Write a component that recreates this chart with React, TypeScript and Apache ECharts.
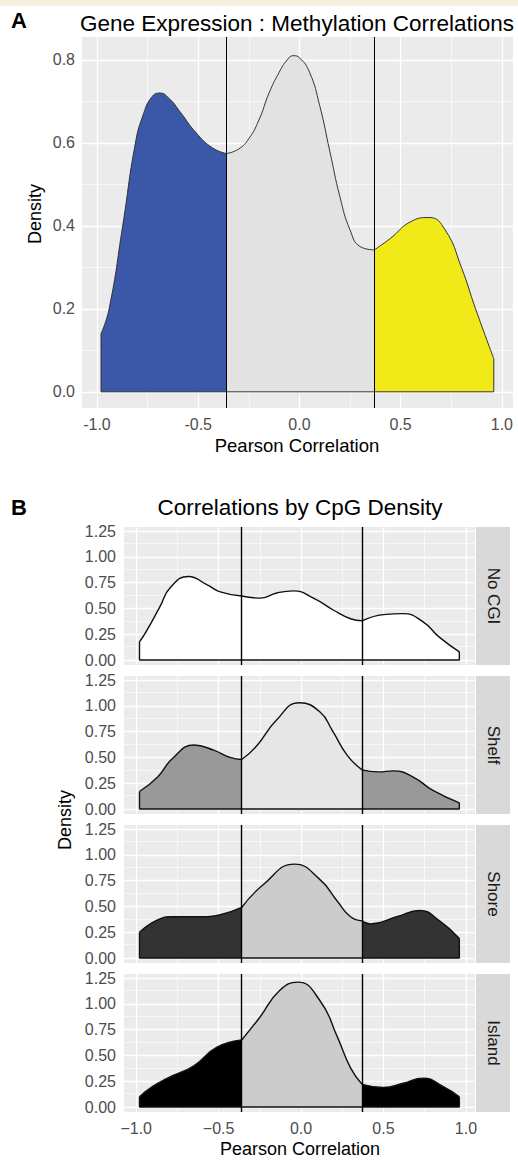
import React, { useEffect, useRef } from "react";
import * as echarts from "echarts";

// ---------- data ----------
const X_TICKS = [-1, -0.5, 0, 0.5, 1];
const X_MINOR = [-0.75, -0.25, 0.25, 0.75];
const Y_TICKS_A = [0, 0.2, 0.4, 0.6, 0.8];
const Y_MINOR_A = [0.1, 0.3, 0.5, 0.7];
const Y_TICKS_B = [0, 0.25, 0.5, 0.75, 1, 1.25];
const Y_MINOR_B = [0.125, 0.375, 0.625, 0.875, 1.125];
const CUTOFFS = [-0.36, 0.37];

const X_A = [-0.98, -0.94, -0.873, -0.81, -0.77, -0.73, -0.69, -0.64, -0.59, -0.51, -0.43, -0.36,
  -0.3, -0.25, -0.2, -0.15, -0.1, -0.06, -0.03, 0.0, 0.05, 0.1, 0.15, 0.2, 0.25, 0.3, 0.37,
  0.45, 0.55, 0.64, 0.72, 0.8, 0.87, 0.96];
const Y_A = [0.14, 0.2, 0.4, 0.6, 0.67, 0.71, 0.72, 0.705, 0.675, 0.624, 0.588, 0.574,
  0.585, 0.61, 0.655, 0.72, 0.77, 0.8, 0.81, 0.805, 0.77, 0.69, 0.58, 0.47, 0.39, 0.35, 0.342,
  0.37, 0.41, 0.42, 0.39, 0.3, 0.2, 0.08];

const FACETS = ["No CGI", "Shelf", "Shore", "Island"];

const X_NOCGI = [-0.98, -0.945, -0.855, -0.794, -0.683, -0.572, -0.49, -0.36, -0.25, -0.147, -0.046, 0.075, 0.2, 0.3, 0.37, 0.5, 0.62, 0.74, 0.84, 0.96];
const Y_NOCGI = [0.177, 0.26, 0.52, 0.7, 0.81, 0.73, 0.66, 0.62, 0.6, 0.65, 0.67, 0.6, 0.48, 0.4, 0.38, 0.44, 0.45, 0.37, 0.22, 0.08];

const X_SHELF = [-0.98, -0.87, -0.78, -0.65, -0.53, -0.43, -0.36, -0.27, -0.15, -0.01, 0.115, 0.19, 0.28, 0.37, 0.47, 0.56, 0.68, 0.8, 0.96];
const Y_SHELF = [0.17, 0.31, 0.49, 0.62, 0.57, 0.5, 0.48, 0.61, 0.86, 1.03, 0.94, 0.76, 0.52, 0.38, 0.36, 0.37, 0.31, 0.18, 0.06];

const X_SHORE = [-0.98, -0.87, -0.78, -0.61, -0.49, -0.36, -0.23, -0.04, 0.115, 0.22, 0.3, 0.37, 0.42, 0.58, 0.72, 0.84, 0.96];
const Y_SHORE = [0.25, 0.37, 0.4, 0.4, 0.42, 0.49, 0.71, 0.91, 0.76, 0.55, 0.4, 0.36, 0.33, 0.4, 0.46, 0.36, 0.19];

const X_ISLAND = [-0.98, -0.9, -0.81, -0.65, -0.51, -0.36, -0.25, -0.13, -0.02, 0.115, 0.22, 0.3, 0.37, 0.5, 0.62, 0.74, 0.86, 0.96];
const Y_ISLAND = [0.1, 0.2, 0.28, 0.4, 0.58, 0.65, 0.87, 1.13, 1.21, 1.03, 0.68, 0.38, 0.22, 0.19, 0.23, 0.28, 0.2, 0.1];

const CURVES_B = [
  [X_NOCGI, Y_NOCGI],
  [X_SHELF, Y_SHELF],
  [X_SHORE, Y_SHORE],
  [X_ISLAND, Y_ISLAND],
];

// ---------- styles ----------
const FONT = "Liberation Sans, Arial, Helvetica, sans-serif";
const FILLS_A = ["#3b57a7", "#e2e2e2", "#f2ea18"];
const FILLS_B = [
  ["#ffffff", "#ffffff", "#ffffff"],
  ["#999999", "#e6e6e6", "#999999"],
  ["#333333", "#cccccc", "#333333"],
  ["#000000", "#cccccc", "#000000"],
];

const X_RANGE = [-1.074, 1.055];
const Y_RANGE_A = [-0.039, 0.855];
const Y_RANGE_B = [-0.048, 1.289];

const GRID_A = { left: 82, top: 37, width: 431, height: 371 };
const B_LEFT = 124;
const B_WIDTH = 351;
const B_HEIGHT = 138;
const B_TOPS = [527, 676, 825, 974];

function pairs(xs: number[], ys: number[], lo: number, hi: number) {
  const out: number[][] = [];
  for (let i = 0; i < xs.length; i++) {
    if (xs[i] >= lo - 1e-9 && xs[i] <= hi + 1e-9) out.push([xs[i], ys[i]]);
  }
  return out;
}

function panelSeries(
  idx: number,
  xs: number[],
  ys: number[],
  fills: string[],
  lineColor: string,
  lineWidth: number,
  yMajor: number[],
  yMinor: number[],
  cutWidth: number
) {
  const bounds = [
    [xs[0], CUTOFFS[0]],
    [CUTOFFS[0], CUTOFFS[1]],
    [CUTOFFS[1], xs[xs.length - 1]],
  ];
  const series: any[] = [];
  const gridLines: any[] = [];
  X_TICKS.forEach((v) => gridLines.push({ xAxis: v, lineStyle: { color: "#ffffff", width: 1.3, type: "solid" } }));
  X_MINOR.forEach((v) => gridLines.push({ xAxis: v, lineStyle: { color: "#ffffff", width: 0.6, type: "solid" } }));
  yMajor.forEach((v) => gridLines.push({ yAxis: v, lineStyle: { color: "#ffffff", width: 1.3, type: "solid" } }));
  yMinor.forEach((v) => gridLines.push({ yAxis: v, lineStyle: { color: "#ffffff", width: 0.6, type: "solid" } }));
  series.push({
    type: "line",
    xAxisIndex: idx,
    yAxisIndex: idx,
    data: [[0, 0]],
    symbol: "none",
    lineStyle: { width: 0, opacity: 0 },
    z: 1,
    silent: true,
    markLine: { silent: true, symbol: ["none", "none"], label: { show: false }, z: 1, animation: false, data: gridLines },
  });
  bounds.forEach((b, k) => {
    series.push({
      type: "line",
      xAxisIndex: idx,
      yAxisIndex: idx,
      data: pairs(xs, ys, b[0], b[1]),
      smooth: 0.5,
      symbol: "none",
      lineStyle: { color: lineColor, width: lineWidth },
      areaStyle: { color: fills[k], opacity: 1 },
      z: 3,
      silent: true,
    });
  });
  const n = xs.length - 1;
  series.push({
    type: "line",
    xAxisIndex: idx,
    yAxisIndex: idx,
    data: [
      [xs[0], ys[0]],
      [xs[0], 0],
      [xs[n], 0],
      [xs[n], ys[n]],
    ],
    symbol: "none",
    lineStyle: { color: lineColor, width: lineWidth },
    z: 4,
    silent: true,
    markLine: {
      silent: true,
      symbol: ["none", "none"],
      label: { show: false },
      z: 6,
      animation: false,
      data: CUTOFFS.map((c) => ({ xAxis: c, lineStyle: { color: "#000000", width: cutWidth, type: "solid" } })),
    },
  });
  return series;
}

function xAxisDef(idx: number, show: boolean, minus: boolean) {
  return {
    type: "value",
    gridIndex: idx,
    min: X_RANGE[0],
    max: X_RANGE[1],
    axisLine: { show: false },
    splitLine: { show: false },
    axisTick: { show, customValues: X_TICKS, length: 4, lineStyle: { color: "#333333", width: 1.1 } },
    axisLabel: {
      show,
      customValues: X_TICKS,
      color: "#4d4d4d",
      fontSize: 16,
      fontFamily: FONT,
      margin: 8,
      formatter: (v: number) => {
        const s = v.toFixed(1);
        return minus ? s.replace("-", "\u2212") : s;
      },
    },
  };
}

function yAxisDef(idx: number, range: number[], ticks: number[], digits: number, margin: number) {
  return {
    type: "value",
    gridIndex: idx,
    min: range[0],
    max: range[1],
    axisLine: { show: false },
    splitLine: { show: false },
    axisTick: { show: true, customValues: ticks, length: 4, lineStyle: { color: "#333333", width: 1.1 } },
    axisLabel: {
      show: true,
      customValues: ticks,
      color: "#4d4d4d",
      fontSize: 16,
      fontFamily: FONT,
      margin,
      formatter: (v: number) => v.toFixed(digits),
    },
  };
}

function txt(text: string, x: number, y: number, size: number, opts: any = {}) {
  return {
    type: "text",
    x,
    y,
    rotation: opts.rotation || 0,
    z: 10,
    style: {
      text,
      fontSize: size,
      fontFamily: FONT,
      fontWeight: opts.bold ? "bold" : "normal",
      fill: opts.fill || "#000000",
      align: opts.align || "center",
      verticalAlign: "middle",
      textAlign: opts.align || "center",
      textVerticalAlign: "middle",
    },
  };
}

export default function App() {
  const ref = useRef<HTMLDivElement>(null);
  useEffect(() => {
    document.body.style.margin = "0";
    if (!ref.current) return;
    const chart = echarts.init(ref.current, undefined, { renderer: "svg" });

    const grids: any[] = [{ ...GRID_A, show: true, backgroundColor: "#ebebeb", borderWidth: 0 }];
    B_TOPS.forEach((t) =>
      grids.push({ left: B_LEFT, top: t, width: B_WIDTH, height: B_HEIGHT, show: true, backgroundColor: "#ebebeb", borderWidth: 0 })
    );

    const xAxes: any[] = [xAxisDef(0, true, false)];
    const yAxes: any[] = [yAxisDef(0, Y_RANGE_A, Y_TICKS_A, 1, 7)];
    B_TOPS.forEach((_, i) => {
      xAxes.push(xAxisDef(i + 1, i === B_TOPS.length - 1, true));
      yAxes.push(yAxisDef(i + 1, Y_RANGE_B, Y_TICKS_B, 2, 8));
    });

    let series: any[] = panelSeries(0, X_A, Y_A, FILLS_A, "#333333", 1, Y_TICKS_A, Y_MINOR_A, 1);
    CURVES_B.forEach((c, i) => {
      series = series.concat(panelSeries(i + 1, c[0], c[1], FILLS_B[i], "#111111", 1.4, Y_TICKS_B, Y_MINOR_B, 1.4));
    });

    const graphics: any[] = [
      { type: "rect", shape: { x: 0, y: 0, width: 518, height: 6 }, style: { fill: "#f5f0e0" }, z: 0 },
      txt("A", 19, 20, 22, { bold: true }),
      txt("Gene Expression : Methylation Correlations", 297, 23, 22.5),
      txt("Density", 35, 214, 18, { rotation: Math.PI / 2 }),
      txt("Pearson Correlation", 297, 445, 18.5),
      txt("B", 19, 507, 22, { bold: true }),
      txt("Correlations by CpG Density", 300, 507, 22.5),
      txt("Density", 65, 820, 18, { rotation: Math.PI / 2 }),
      txt("Pearson Correlation", 300, 1149, 18),
    ];
    B_TOPS.forEach((t, i) => {
      graphics.push({
        type: "rect",
        shape: { x: B_LEFT + B_WIDTH + 1, y: t, width: 34, height: B_HEIGHT },
        style: { fill: "#d9d9d9" },
        z: 1,
      });
      graphics.push(txt(FACETS[i], B_LEFT + B_WIDTH + 18, t + B_HEIGHT / 2, 17, { rotation: -Math.PI / 2, fill: "#1a1a1a" }));
    });

    chart.setOption({
      animation: false,
      backgroundColor: "#ffffff",
      grid: grids,
      xAxis: xAxes,
      yAxis: yAxes,
      series,
      graphic: graphics,
    });
    return () => chart.dispose();
  }, []);
  return <div ref={ref} style={{ width: 518, height: 1160 }} />;
}
